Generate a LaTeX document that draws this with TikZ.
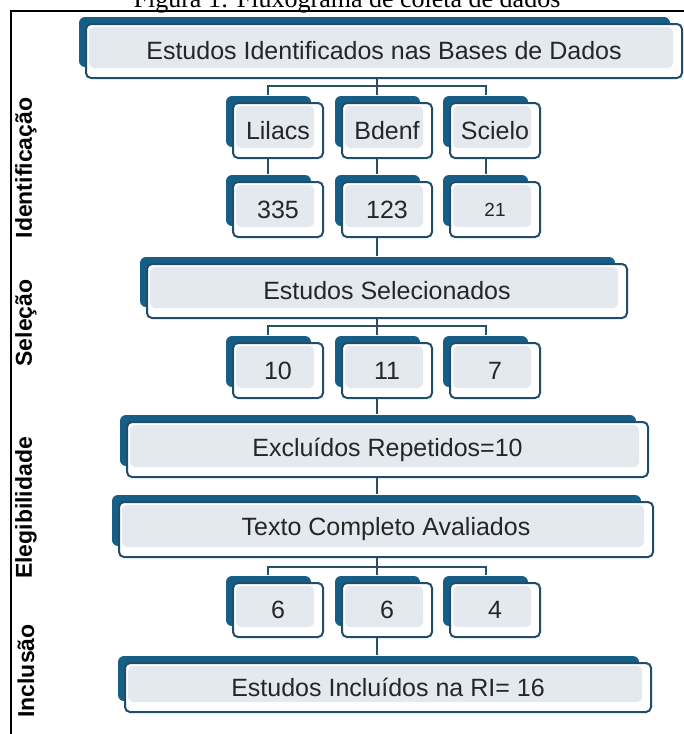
\documentclass[tikz,border=0pt]{standalone}
\usepackage{fontspec}
\setmainfont{Liberation Sans}
\newfontfamily\titleserif{Liberation Serif}
\usetikzlibrary{calc}
\definecolor{backc}{RGB}{22,94,134}
\definecolor{bordc}{RGB}{30,78,106}
\definecolor{innerc}{RGB}{227,233,238}
\definecolor{connc}{RGB}{36,80,108}
\tikzset{
  frontbox/.style={draw=bordc, line width=2pt, rounded corners=5pt, fill=white,
    inner sep=0pt, font=\fontsize{25}{30}\selectfont, text=black!85,
    path picture={\fill[innerc] ([xshift=3pt,yshift=-3pt]path picture bounding box.north west)
      rectangle ([xshift=-9pt,yshift=10pt]path picture bounding box.south east);}},
  conn/.style={draw=connc, line width=2pt},
  phase/.style={font=\bfseries\fontsize{23}{26}\selectfont, rotate=90, inner sep=0pt}
}
\newcommand\flowbox[6]{%
  \fill[backc, rounded corners=6pt] (#2-#4/2-7, #3-#5/2-7) rectangle (#2+#4/2-12, #3+#5/2-11);
  \node[frontbox, minimum width=#4pt, minimum height=#5pt] (#1) at (#2,#3) {#6};
}
\begin{document}
\begin{tikzpicture}[x=1pt,y=-1pt]
\useasboundingbox (0,0) rectangle (684,734);
\fill[white] (0,0) rectangle (684,734);
% title (cut at top)
\node[font=\titleserif\fontsize{26}{30}\selectfont, anchor=base, inner sep=0pt] (title) at (347,7) {Figura 1: Fluxograma de coleta de dados};
% frame
\draw[line width=2pt, black] (11,740) -- (11,11) -- (690,11);
% phase labels
\node[phase] (lid) at (26,168) {Identificação};
\node[phase] (lsel) at (26,323) {Seleção};
\node[phase] (leleg) at (26,508) {Elegibilidade};
\node[phase] (linc) at (26,671) {Inclusão};
% boxes
\flowbox{b1}{384}{51}{596}{54}{\raisebox{2pt}{Estudos Identificados nas Bases de Dados}}
\flowbox{lil}{278}{130.5}{90}{55}{Lilacs}
\flowbox{bde}{387}{130.5}{90}{55}{Bdenf}
\flowbox{sci}{495}{130.5}{90}{55}{Scielo}
\flowbox{n335}{278}{209.5}{90}{55}{335}
\flowbox{n123}{387}{209.5}{90}{55}{123}
\flowbox{n21}{495}{209.5}{90}{55}{\fontsize{19}{22}\selectfont 21}
\flowbox{sel}{387}{291}{480}{54}{Estudos Selecionados}
\flowbox{n10}{278}{370.5}{90}{55}{10}
\flowbox{n11}{387}{370.5}{90}{55}{11}
\flowbox{n7}{495}{370.5}{90}{55}{7}
\flowbox{exc}{387.5}{449.5}{521}{55}{Excluídos Repetidos=10}
\flowbox{txt}{386}{529.5}{534}{55}{Texto Completo Avaliados}
\flowbox{n6a}{278}{610}{90}{54}{6}
\flowbox{n6b}{387}{610}{90}{54}{6}
\flowbox{n4}{495}{610}{90}{54}{4}
\flowbox{inc}{388}{687.5}{526}{49}{Estudos Incluídos na RI= 16}
% connectors
\coordinate (j1) at (377,86);
\draw[conn] (j1) -- (j1 |- b1.south);
\draw[conn] ([xshift=-10pt,yshift=7pt]lil.north) |- (j1) -| ([xshift=-9pt,yshift=7pt]sci.north);
\draw[conn] (j1) -- ([xshift=-10pt,yshift=7pt]bde.north);
\draw[conn] ([xshift=-10pt]lil.south) -- ([xshift=-10pt,yshift=7pt]n335.north);
\draw[conn] ([xshift=-10pt]bde.south) -- ([xshift=-10pt,yshift=7pt]n123.north);
\draw[conn] ([xshift=-9pt]sci.south) -- ([xshift=-9pt,yshift=7pt]n21.north);
\draw[conn] ([xshift=-10pt]n123.south) -- ([xshift=-10pt,yshift=7pt]sel.north);
\coordinate (j2) at (377,326);
\draw[conn] (j2) -- (j2 |- sel.south);
\draw[conn] ([xshift=-10pt,yshift=7pt]n10.north) |- (j2) -| ([xshift=-9pt,yshift=7pt]n7.north);
\draw[conn] (j2) -- ([xshift=-10pt,yshift=7pt]n11.north);
\draw[conn] ([xshift=-10pt]n11.south) -- ([xshift=-10pt,yshift=7pt]n11.south |- exc.north);
\draw[conn] ([xshift=-10.5pt]exc.south) -- ([xshift=-10.5pt,yshift=7pt]exc.south |- txt.north);
\coordinate (j3) at (377,567);
\draw[conn] (j3) -- (j3 |- txt.south);
\draw[conn] ([xshift=-10pt,yshift=7pt]n6a.north) |- (j3) -| ([xshift=-9pt,yshift=7pt]n4.north);
\draw[conn] (j3) -- ([xshift=-10pt,yshift=7pt]n6b.north);
\draw[conn] ([xshift=-10pt]n6b.south) -- ([xshift=-10pt,yshift=7pt]n6b.south |- inc.north);
\end{tikzpicture}
\end{document}
